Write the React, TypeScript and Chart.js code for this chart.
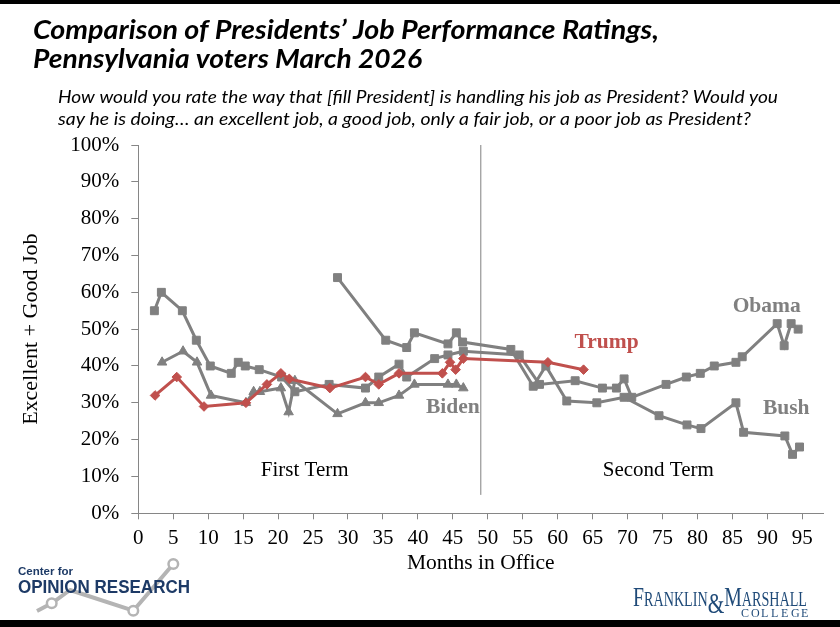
import React, { useEffect, useRef } from 'react';
import { Chart, registerables } from 'chart.js';

Chart.register(...registerables);

// Months in office and "excellent + good" job ratings (%) for each president
const trumpMonths = [2.4, 5.5, 9.4, 15.4, 18.4, 20.4, 21.6, 27.4, 32.5, 34.4, 37.3, 43.5, 44.6, 45.4, 46.5, 58.6, 63.7];
const trumpRatings = [32, 37, 29, 30, 35, 38, 36.5, 34, 37, 35, 38, 38, 41, 39, 42, 41, 39];

const bidenMonths = [3.4, 6.4, 8.4, 10.4, 15.4, 16.5, 17.4, 20.4, 21.5, 22.4, 28.5, 32.5, 34.4, 37.3, 39.5, 44.3, 45.5, 46.5];
const bidenRatings = [41, 44, 41, 32, 30, 33, 33, 34, 27.5, 36, 27, 30, 30, 32, 35, 35, 35, 34];

const obamaMonths = [2.3, 3.3, 6.3, 8.3, 10.3, 13.3, 14.3, 15.3, 17.3, 20.5, 22.4, 27.3, 32.5, 34.4, 37.3, 38.4, 42.4, 44.3, 46.5, 54.5, 57.4, 62.5, 66.4, 68.4, 69.5, 70.6, 75.5, 78.4, 80.4, 82.4, 85.5, 86.4, 91.4, 92.4, 93.4, 94.4];
const obamaRatings = [55, 60, 55, 47, 40, 38, 41, 40, 39, 37, 33, 35, 34, 37, 40.5, 37, 42, 43, 44, 43, 35, 36, 34, 34, 36.5, 31.5, 35, 37, 38, 40, 41, 42.5, 51.5, 45.5, 51.5, 50];

const bushMonths = [28.5, 35.4, 38.4, 39.5, 44.3, 45.5, 46.4, 53.3, 56.5, 58.3, 61.3, 65.6, 69.5, 74.5, 78.5, 80.5, 85.5, 86.6, 92.5, 93.6, 94.6];
const bushRatings = [64, 47, 45, 49, 46, 49, 46.5, 44.5, 34.5, 40, 30.5, 30, 31.5, 26.5, 24, 23, 30, 22, 21, 16, 18];

// Boundary between first and second term
const termBoundaryMonths = [49, 49];
const termBoundaryRatings = [5, 100];

// Axis ticks
const monthTicks = [0, 5, 10, 15, 20, 25, 30, 35, 40, 45, 50, 55, 60, 65, 70, 75, 80, 85, 90, 95];
const ratingTicks = [0, 10, 20, 30, 40, 50, 60, 70, 80, 90, 100];
const ratingTickLabels = ['0%', '10%', '20%', '30%', '40%', '50%', '60%', '70%', '80%', '90%', '100%'];

const SERIF = '"Liberation Serif", "Times New Roman", serif';
const SANS = '"Liberation Sans", Arial, sans-serif';
const GRAY = '#808080';
const RED = '#c0504d';
const AXIS = '#868686';
const NAVY = '#1d3a66';

const W = 840;
const H = 627;
const PLOT_LEFT = 138.3;
const PLOT_RIGHT = 823.3;
const PLOT_TOP = 145;
const PLOT_BOTTOM = 513.3;

// Name tags and term captions, anchored in data units
const nameTags = [
  { text: 'Trump', month: 67, rating: 46.5, color: RED },
  { text: 'Biden', month: 45, rating: 28.7, color: GRAY },
  { text: 'Obama', month: 89.9, rating: 56.2, color: GRAY },
  { text: 'Bush', month: 92.7, rating: 28.6, color: GRAY },
];
const termCaptions = [
  { text: 'First Term', month: 23.8, rating: 11.5 },
  { text: 'Second Term', month: 74.4, rating: 11.5 },
];

const zip = (xs: number[], ys: number[]) => xs.map((x, i) => ({ x, y: ys[i] }));

function fitText(ctx: CanvasRenderingContext2D, text: string, x: number, baseline: number, width: number) {
  const w = ctx.measureText(text).width;
  ctx.save();
  ctx.translate(x, baseline);
  ctx.scale(width / w, 1);
  ctx.fillText(text, 0, 0);
  ctx.restore();
}

const labelsPlugin = {
  id: 'seriesLabels',
  afterDatasetsDraw(chart: any) {
    const { ctx, scales } = chart;
    const xs = scales.x;
    const ys = scales.y;
    ctx.save();
    ctx.textAlign = 'center';
    ctx.textBaseline = 'middle';
    ctx.font = `bold 21.5px ${SERIF}`;
    for (const t of nameTags) {
      ctx.fillStyle = t.color;
      ctx.fillText(t.text, xs.getPixelForValue(t.month), ys.getPixelForValue(t.rating));
    }
    ctx.font = `21px ${SERIF}`;
    ctx.fillStyle = '#000';
    for (const t of termCaptions) {
      ctx.fillText(t.text, xs.getPixelForValue(t.month), ys.getPixelForValue(t.rating));
    }
    ctx.restore();
  },
};

const decorPlugin = {
  id: 'pageDecor',
  afterDraw(chart: any) {
    const ctx: CanvasRenderingContext2D = chart.ctx;
    ctx.save();
    // frame bands
    ctx.fillStyle = '#000';
    ctx.fillRect(0, 0, W, 4);
    ctx.fillRect(0, 620, W, 7);

    // heading
    ctx.textAlign = 'left';
    ctx.textBaseline = 'alphabetic';
    ctx.font = `italic bold 27px Lato, ${SANS}`;
    fitText(ctx, 'Comparison of Presidents\u2019 Job Performance Ratings,', 33, 39, 626);
    fitText(ctx, 'Pennsylvania voters March 2026', 33, 68, 389);
    ctx.font = `italic 17.5px Lato, ${SANS}`;
    fitText(ctx, 'How would you rate the way that [fill President] is handling his job as President? Would you', 58, 103, 720);
    fitText(ctx, 'say he is doing\u2026 an excellent job, a good job, only a fair job, or a poor job as President?', 58, 125, 693);

    // Center for Opinion Research mark
    ctx.strokeStyle = '#b4b4b4';
    ctx.lineWidth = 4;
    ctx.lineJoin = 'round';
    ctx.beginPath();
    ctx.moveTo(37, 611);
    ctx.lineTo(51.7, 603.3);
    ctx.lineTo(70, 590);
    ctx.lineTo(133.3, 610.7);
    ctx.lineTo(173.3, 564);
    ctx.stroke();
    ctx.lineWidth = 2.5;
    ctx.fillStyle = '#fff';
    for (const [cx, cy] of [[51.7, 603.3], [133.3, 610.7], [173.3, 564]]) {
      ctx.beginPath();
      ctx.arc(cx, cy, 4.8, 0, Math.PI * 2);
      ctx.fill();
      ctx.stroke();
    }
    ctx.fillStyle = NAVY;
    ctx.font = `bold 11px ${SANS}`;
    fitText(ctx, 'Center for', 18, 575, 55);
    ctx.font = `bold 18px ${SANS}`;
    fitText(ctx, 'OPINION RESEARCH', 18, 593, 172);

    // Franklin & Marshall wordmark
    ctx.fillStyle = '#1f4a78';
    const parts: [string, number][] = [['F', 28], ['RANKLIN', 20], ['&', 30], ['M', 28], ['ARSHALL', 20]];
    let total = 0;
    for (const [t, s] of parts) {
      ctx.font = `${s}px ${SERIF}`;
      total += ctx.measureText(t).width;
    }
    const k = 174 / total;
    let px = 633;
    for (const [t, s] of parts) {
      ctx.font = `${s}px ${SERIF}`;
      const w = ctx.measureText(t).width;
      ctx.save();
      ctx.translate(px, t === '&' ? 613 : 606);
      ctx.scale(k, 1);
      ctx.fillText(t, 0, 0);
      ctx.restore();
      px += w * k;
    }
    ctx.font = `12px ${SERIF}`;
    const college = 'COLLEGE';
    const cw = 60;
    const step = cw / (college.length - 1);
    for (let i = 0; i < college.length; i++) {
      ctx.fillText(college[i], 741 + i * step, 617);
    }
    ctx.restore();
  },
};

export default function App() {
  const canvasRef = useRef<HTMLCanvasElement>(null);

  useEffect(() => {
    const canvas = canvasRef.current;
    if (!canvas) return;
    const lineStyle = (color: string) => ({
      borderColor: color,
      backgroundColor: color,
      pointBackgroundColor: color,
      pointBorderColor: color,
      pointBorderWidth: 1,
      borderWidth: 3,
      tension: 0,
      fill: false,
    });
    const chart = new Chart(canvas, {
      type: 'line',
      data: {
        datasets: [
          { label: 'Trump', data: zip(trumpMonths, trumpRatings), ...lineStyle(RED), pointStyle: 'rectRot', pointRadius: 4.8 },
          { label: 'Biden', data: zip(bidenMonths, bidenRatings), ...lineStyle(GRAY), pointStyle: 'triangle', pointRadius: 5.5 },
          { label: 'Obama', data: zip(obamaMonths, obamaRatings), ...lineStyle(GRAY), pointStyle: 'rect', pointRadius: 5.6 },
          { label: 'Bush', data: zip(bushMonths, bushRatings), ...lineStyle(GRAY), pointStyle: 'rect', pointRadius: 5.6 },
          {
            label: 'Term boundary',
            data: zip(termBoundaryMonths, termBoundaryRatings),
            borderColor: GRAY,
            borderWidth: 1,
            pointRadius: 0,
            fill: false,
          },
        ],
      } as any,
      options: {
        responsive: false,
        animation: false,
        devicePixelRatio: 1,
        layout: { padding: { left: 0, top: PLOT_TOP, right: W - PLOT_RIGHT, bottom: 0 } },
        plugins: {
          legend: { display: false },
          tooltip: { enabled: false },
          title: { display: false },
        },
        scales: {
          x: {
            type: 'linear',
            min: 0,
            max: 98,
            afterBuildTicks: (s: any) => {
              s.ticks = monthTicks.map((v) => ({ value: v }));
            },
            afterFit: (s: any) => {
              s.height = H - PLOT_BOTTOM;
            },
            ticks: {
              autoSkip: false,
              maxRotation: 0,
              color: '#000',
              padding: 7,
              font: { family: SERIF, size: 21 },
            },
            grid: { drawOnChartArea: false, drawTicks: true, tickLength: 6, color: AXIS },
            border: { display: true, color: AXIS, width: 1 },
            title: {
              display: true,
              text: 'Months in Office',
              color: '#000',
              font: { family: SERIF, size: 21.5 },
              padding: { top: 0, bottom: 51 },
            },
          },
          y: {
            type: 'linear',
            min: 0,
            max: 100,
            afterBuildTicks: (s: any) => {
              s.ticks = ratingTicks.map((v) => ({ value: v }));
            },
            afterFit: (s: any) => {
              s.width = PLOT_LEFT;
            },
            ticks: {
              color: '#000',
              padding: 12,
              font: { family: SERIF, size: 21 },
              callback: (_v: any, i: number) => ratingTickLabels[i],
            },
            grid: { drawOnChartArea: false, drawTicks: true, tickLength: 7, color: AXIS },
            border: { display: true, color: AXIS, width: 1 },
            title: {
              display: true,
              text: 'Excellent + Good Job',
              color: '#000',
              font: { family: SERIF, size: 22 },
              padding: { top: 18, bottom: 0 },
            },
          },
        },
      } as any,
      plugins: [labelsPlugin, decorPlugin],
    });
    return () => chart.destroy();
  }, []);

  return (
    <div style={{ position: 'absolute', left: 0, top: 0, width: W, height: H, background: '#fff' }}>
      <canvas ref={canvasRef} width={W} height={H} style={{ display: 'block', width: W, height: H }} />
    </div>
  );
}
